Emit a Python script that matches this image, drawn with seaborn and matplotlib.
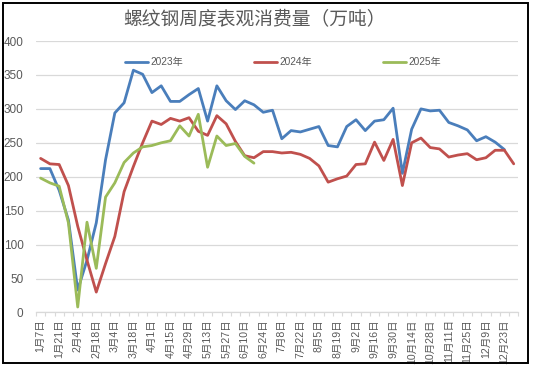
import matplotlib
import matplotlib.pyplot as plt
import numpy as np
import pandas as pd
import seaborn as sns
from matplotlib.patches import Rectangle
from matplotlib.ticker import FixedLocator, MultipleLocator

matplotlib.use("Agg")

TITLE = "螺纹钢周度表观消费量（万吨）"
YEARS = ["2023年", "2024年", "2025年"]
COLORS = ["#4A7EBB", "#C0504D", "#9BBB59"]

WEEK_LABELS = [
    "1月7日", "1月21日", "2月4日", "2月18日", "3月4日", "3月18日", "4月1日",
    "4月15日", "4月29日", "5月13日", "5月27日", "6月10日", "6月24日", "7月8日",
    "7月22日", "8月5日", "8月19日", "9月2日", "9月16日", "9月30日", "10月14日",
    "10月28日", "11月11日", "11月25日", "12月9日", "12月23日",
]

Y2023 = [
    212, 212, 180, 136, 33, 77, 132, 225, 294, 309, 357, 351, 324, 334, 311, 311,
    321, 330, 282, 334, 312, 299, 312, 306, 295, 298, 256, 268, 266, 270, 274, 246,
    244, 274, 284, 268, 282, 284, 301, 205, 270, 300, 297, 298, 280, 275, 269, 253,
    259, 251, 240,
]
Y2024 = [
    227, 219, 218, 187, 127, 77, 30, 72, 112, 178, 215, 250, 282, 277, 286, 282,
    287, 267, 261, 290, 278, 252, 231, 228, 237, 237, 235, 236, 233, 227, 216, 192,
    197, 201, 218, 219, 251, 224, 255, 187, 250, 257, 243, 241, 229, 232, 234, 225,
    228, 239, 239, 219,
]
Y2025 = [
    198, 191, 186, 132, 8, 133, 65, 170, 191, 221, 235, 244, 246, 250, 253, 275,
    260, 292, 214, 260, 246, 249, 230, 220,
]


def build_frame() -> pd.DataFrame:
    parts = []
    for year, values in zip(YEARS, [Y2023, Y2024, Y2025]):
        parts.append(pd.DataFrame({"week": np.arange(len(values)), "value": values, "year": year}))
    return pd.concat(parts, ignore_index=True)


def main() -> None:
    sns.set_style("white")
    plt.rcParams["font.family"] = ["Liberation Sans", "Noto Sans CJK SC", "DejaVu Sans"]
    grey = "#595959"

    df = build_frame()
    fig = plt.figure(figsize=(5.33, 3.68), dpi=100)
    ax = fig.add_axes([0.0675, 0.151, 0.905, 0.7375])

    sns.lineplot(
        data=df, x="week", y="value", hue="year", hue_order=YEARS,
        palette=COLORS, linewidth=2.0, sort=False, ax=ax,
    )

    ax.set_xlim(-0.5, 51.5)
    ax.set_ylim(0, 400)
    ax.yaxis.set_major_locator(MultipleLocator(50))
    ax.grid(axis="y", color="#D9D9D9", linewidth=0.9)
    ax.set_axisbelow(True)
    for side in ["top", "right", "left"]:
        ax.spines[side].set_visible(False)
    ax.spines["bottom"].set_color("#D9D9D9")
    ax.spines["bottom"].set_linewidth(0.9)

    ax.set_xticks(np.arange(0, 52, 2))
    ax.set_xticklabels(WEEK_LABELS, rotation=90, fontsize=7.6, color=grey)
    ax.xaxis.set_minor_locator(FixedLocator(np.arange(-0.5, 52, 1)))
    ax.tick_params(axis="x", which="major", length=0, pad=5)
    ax.tick_params(axis="x", which="minor", length=3, color="#D9D9D9", width=0.8, bottom=True)
    ax.tick_params(axis="y", length=0, pad=9, labelsize=8.5, labelcolor=grey)
    ax.set_xlabel("")
    ax.set_ylabel("")

    handles, labels = ax.get_legend_handles_labels()
    ax.legend(
        handles, labels, loc="center", bbox_to_anchor=(0.512, 0.922), ncol=3,
        frameon=False, fontsize=7.3, labelcolor=grey, handlelength=2.3,
        handletextpad=0.2, columnspacing=7.0,
    )

    fig.text(0.478, 0.946, TITLE, ha="center", va="center", fontsize=13.5, color=grey)
    fig.patches.append(
        Rectangle((0.005, 0.0145), 0.985, 0.978, transform=fig.transFigure,
                  fill=False, edgecolor="black", linewidth=1.4)
    )

    fig.savefig("out.png", dpi=100)
    plt.close(fig)


if __name__ == "__main__":
    main()
